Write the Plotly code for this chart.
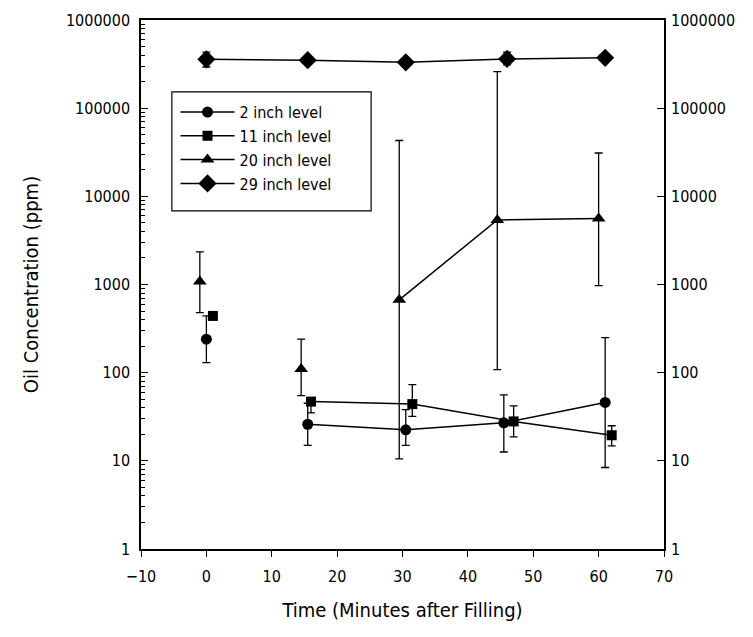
import plotly.graph_objects as go

# ---- data (time in minutes, concentration in ppm) ----
series_names = ["2 inch level", "11 inch level", "20 inch level", "29 inch level"]

t_2in = [0, 15.5, 30.5, 45.5, 61]
c_2in = [240, 26, 22.5, 27, 46]
lo_2in = [130, 15, 15, 12.6, 8.4]
hi_2in = [440, 45, 38, 56, 250]

t_11in = [1, 16, 31.5, 47, 62]
c_11in = [440, 47, 44, 28, 19.5]
lo_11in = [440, 35, 32, 18.7, 14.8]
hi_11in = [440, 52, 73, 42, 25]

t_20in = [-1, 14.5, 29.5, 44.5, 60]
c_20in = [1080, 110, 670, 5400, 5600]
lo_20in = [480, 55, 10.5, 108, 970]
hi_20in = [2350, 240, 43000, 260000, 31000]

t_29in = [0, 15.5, 30.5, 46, 61]
c_29in = [358000, 350000, 331000, 362000, 372000]
lo_29in = [293000, 350000, 331000, 310000, 372000]
hi_29in = [433000, 350000, 331000, 433000, 372000]

x_ticks = [-10, 0, 10, 20, 30, 40, 50, 60, 70]
y_ticks = [1, 10, 100, 1000, 10000, 100000, 1000000]
y_ticklabels = ["1", "10", "100", "1000", "10000", "100000", "1000000"]

# index of the first point joined by the connecting line (earlier points are isolated in the scan)
line_start = [1, 1, 2, 0]

symbols = ["circle", "square", "triangle-up", "diamond"]
sizes = [11, 10, 12, 14]

FAM = "DejaVu Sans Condensed, DejaVu Sans, sans-serif"
TICK_FONT = dict(family=FAM, size=16, color="black")
TITLE_FONT = dict(family=FAM, size=20, color="black")

fig = go.Figure()

all_series = [
    (t_2in, c_2in, lo_2in, hi_2in),
    (t_11in, c_11in, lo_11in, hi_11in),
    (t_20in, c_20in, lo_20in, hi_20in),
    (t_29in, c_29in, lo_29in, hi_29in),
]


def err(a, b):
    return dict(type="data", symmetric=False, array=a, arrayminus=b,
                color="black", thickness=1.3, width=4)


for i, (t, c, lo, hi) in enumerate(all_series):
    s = line_start[i]
    plus = [h - v for h, v in zip(hi, c)]
    minus = [v - l for v, l in zip(c, lo)]
    marker = dict(symbol=symbols[i], size=sizes[i], color="black")
    fig.add_trace(go.Scatter(
        x=t[s:], y=c[s:], mode="lines+markers", name=series_names[i],
        line=dict(color="black", width=1.5), marker=marker,
        error_y=err(plus[s:], minus[s:]), showlegend=True,
    ))
    if s > 0:
        fig.add_trace(go.Scatter(
            x=t[:s], y=c[:s], mode="markers", name=series_names[i],
            marker=marker, error_y=err(plus[:s], minus[:s]), showlegend=False,
        ))

# invisible trace so the right-hand axis is drawn
fig.add_trace(go.Scatter(x=t_29in, y=c_29in, yaxis="y2", mode="markers",
                         marker=dict(opacity=0), showlegend=False, hoverinfo="skip"))

# plot area: page x 141..664, y 20..549 (page has an 8px body margin)
fig.update_layout(
    width=745, height=629,
    margin=dict(l=133, r=89, t=12, b=88),
    paper_bgcolor="white", plot_bgcolor="white",
    showlegend=True,
    legend=dict(
        x=0.066, y=0.858, xanchor="left", yanchor="top",
        bgcolor="rgba(0,0,0,0)", borderwidth=0,
        font=dict(family=FAM, size=16, color="black"),
        tracegroupgap=0, itemwidth=54,
    ),
    shapes=[dict(type="rect", xref="paper", yref="paper",
                 x0=0.059, x1=0.44, y0=0.639, y1=0.864,
                 line=dict(color="black", width=1.2), fillcolor="rgba(0,0,0,0)")],
    xaxis=dict(
        range=[-10, 70], tickmode="array", tickvals=x_ticks,
        ticks="outside", ticklen=6, tickwidth=1, tickcolor="black",
        showline=True, linecolor="black", linewidth=1.5, mirror=True,
        showgrid=False, zeroline=False, tickfont=TICK_FONT, ticklabelstandoff=6,
        automargin=False,
        title=dict(text="Time (Minutes after Filling)", font=TITLE_FONT, standoff=18),
    ),
    yaxis=dict(
        type="log", range=[0, 6], tickmode="array", tickvals=y_ticks, ticktext=y_ticklabels,
        ticks="inside", ticklen=7, tickwidth=1, tickcolor="black",
        minor=dict(ticks="inside", ticklen=4, tickcolor="black", dtick="D1", showgrid=False),
        showline=True, linecolor="black", linewidth=1.5, mirror=True,
        showgrid=False, zeroline=False, tickfont=TICK_FONT, ticklabelstandoff=6,
        automargin=False,
        title=dict(text="Oil Concentration (ppm)", font=TITLE_FONT, standoff=22),
    ),
    yaxis2=dict(
        type="log", range=[0, 6], overlaying="y", side="right",
        tickmode="array", tickvals=y_ticks, ticktext=y_ticklabels,
        ticks="inside", ticklen=7, tickwidth=1, tickcolor="black",
        showline=False, showgrid=False, zeroline=False, tickfont=TICK_FONT,
        ticklabelstandoff=6, automargin=False,
    ),
)

fig.write_html("out.html")
